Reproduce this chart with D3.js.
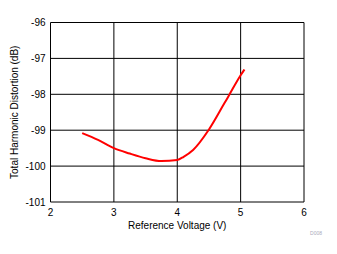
<!DOCTYPE html>
<html>
<head>
<meta charset="utf-8">
<script src="https://cdn.jsdelivr.net/npm/d3@7"></script>
<style>
  body { margin: 0; background: #fff; }
  text { font-family: "Liberation Sans", Arial, sans-serif; }
</style>
</head>
<body>
<svg id="chart" width="337" height="254"></svg>
<script>
const voltage = [2.5, 2.75, 3, 3.25, 3.5, 3.75, 4, 4.1, 4.25, 4.5, 4.75, 4.8, 5, 5.06];
const thd = [-99.08, -99.27, -99.5, -99.65, -99.78, -99.86, -99.83, -99.74, -99.55, -98.98, -98.23, -98.08, -97.47, -97.31];
const xTicks = [2, 3, 4, 5, 6];
const yTicks = [-101, -100, -99, -98, -97, -96];

const margin = {left: 50.5, right: 33, top: 22.5, bottom: 52};
const width = 337, height = 254;

const svg = d3.select("#chart");

const x = d3.scaleLinear().domain([2, 6]).range([margin.left, width - margin.right]);
const y = d3.scaleLinear().domain([-101, -96]).range([height - margin.bottom, margin.top]);

// grid
svg.append("g").selectAll("line.v")
  .data(xTicks)
  .enter().append("line")
  .attr("x1", d => x(d)).attr("x2", d => x(d))
  .attr("y1", y(-101)).attr("y2", y(-96))
  .attr("stroke", "#000").attr("stroke-width", 1);

svg.append("g").selectAll("line.h")
  .data(yTicks)
  .enter().append("line")
  .attr("x1", x(2)).attr("x2", x(6))
  .attr("y1", d => y(d)).attr("y2", d => y(d))
  .attr("stroke", "#000").attr("stroke-width", 1);

// tick labels
svg.append("g").selectAll("text")
  .data(xTicks)
  .enter().append("text")
  .attr("x", d => x(d)).attr("y", y(-101) + 14)
  .attr("text-anchor", "middle")
  .style("font-size", "10px")
  .text(d => d);

svg.append("g").selectAll("text")
  .data(yTicks)
  .enter().append("text")
  .attr("x", x(2) - 5).attr("y", d => y(d) + 3.5)
  .attr("text-anchor", "end")
  .style("font-size", "10px")
  .text(d => d);

// axis titles
svg.append("text")
  .attr("x", (x(2) + x(6)) / 2).attr("y", y(-101) + 27)
  .attr("text-anchor", "middle")
  .style("font-size", "10px")
  .text("Reference Voltage (V)");

svg.append("text")
  .attr("transform", "translate(18," + (y(-101) + y(-96)) / 2 + ") rotate(-90)")
  .attr("text-anchor", "middle")
  .style("font-size", "10px")
  .text("Total Harmonic Distortion (dB)");

// curve
const line = d3.line()
  .x((d, i) => x(voltage[i]))
  .y(d => y(d))
  .curve(d3.curveMonotoneX);

svg.append("path")
  .datum(thd)
  .attr("d", line)
  .attr("fill", "none")
  .attr("stroke", "#ff0000")
  .attr("stroke-width", 2);

svg.append("text")
  .attr("x", 316).attr("y", 235)
  .attr("text-anchor", "middle")
  .attr("fill", "#aab")
  .style("font-size", "5px")
  .text("D008");
</script>
</body>
</html>
